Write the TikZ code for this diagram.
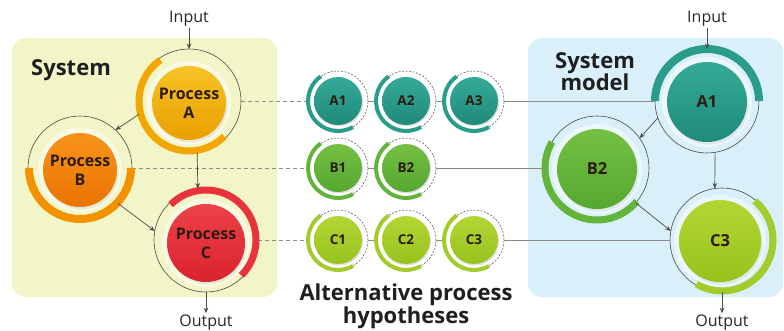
\documentclass[tikz,border=0pt]{standalone}
\usepackage{fontspec}
\setmainfont{Open Sans}
\usetikzlibrary{arrows.meta}
\definecolor{panelY}{HTML}{F2F5C7}
\definecolor{panelB}{HTML}{D9EFF9}
\definecolor{ringgray}{HTML}{4A4A4A}
\definecolor{linkgray}{HTML}{8A8A8A}
\definecolor{aTop}{HTML}{F7C325}\definecolor{aBot}{HTML}{E9A000}\definecolor{aArc}{HTML}{F2A600}
\definecolor{bTop}{HTML}{F7941D}\definecolor{bBot}{HTML}{EA7300}\definecolor{bArc}{HTML}{F39200}
\definecolor{cTop}{HTML}{EE4148}\definecolor{cBot}{HTML}{D9232E}\definecolor{cArc}{HTML}{E8333C}
\definecolor{tTop}{HTML}{35AA98}\definecolor{tBot}{HTML}{1F8A7A}\definecolor{tArc}{HTML}{2A9C8B}
\definecolor{gTop}{HTML}{74C043}\definecolor{gBot}{HTML}{55A830}\definecolor{gArc}{HTML}{62B53A}
\definecolor{yTop}{HTML}{B3D633}\definecolor{yBot}{HTML}{97C31F}\definecolor{yArc}{HTML}{A3CC2A}
\definecolor{labdark}{HTML}{2E1C12}
\newcommand\halo[3]{%
  \fill[black,opacity=0.13] (#1+1.5,#2-2.5) circle (#3);
  \fill[white,opacity=0.5] (#1,#2) circle ({#3+5});}
\newcommand\halosmall[3]{%
  \fill[black,opacity=0.12] (#1+1,#2-1.5) circle (#3);}
\begin{document}
\begin{tikzpicture}[x=1pt,y=1pt,
  panel/.style={rounded corners=14pt},
  ring/.style={circle,draw=ringgray,line width=0.6pt,inner sep=0pt,outer sep=0pt,minimum size=104pt},
  hring/.style={circle,draw=ringgray,line width=0.5pt,dash pattern=on 2pt off 1.5pt,inner sep=0pt,outer sep=0pt,minimum size=60pt},
  ballbig/.style={circle,inner sep=0pt,text=labdark,align=center,font=\bfseries\fontsize{16}{19}\selectfont},
  ballmod/.style={circle,inner sep=0pt,text=labdark,font=\bfseries\fontsize{16.5}{19}\selectfont},
  ballhyp/.style={circle,inner sep=0pt,minimum size=48pt,text=labdark,font=\bfseries\fontsize{13.5}{15}\selectfont},
  arcband/.style={line width=#1,line cap=butt},
  link/.style={draw=linkgray,line width=0.8pt},
  dlink/.style={draw=linkgray,line width=0.8pt,dash pattern=on 4pt off 3pt},
  flow/.style={draw=ringgray,line width=0.7pt,-{Stealth[length=5.5pt,width=4.5pt]}},
  io/.style={inner sep=1pt,font=\fontsize{16}{18}\selectfont,text=black!85},
  title/.style={font=\bfseries\fontsize{22}{24}\selectfont,text=black!88}
]
\useasboundingbox (0,0) rectangle (784,-331);
% panels
\fill[panelY,panel] (12,-38) rectangle (277,-297);
\fill[panelB,panel] (528,-38) rectangle (783,-297);
\node[title,anchor=base] (sys) at (71,-76) {System};
\node[title,anchor=base] (sysm1) at (595,-69) {System};
\node[title,anchor=base] (sysm2) at (595,-91) {model};
\node[title,anchor=base] (alt1) at (406,-300) {Alternative process};
\node[title,anchor=base] (alt2) at (406,-323) {hypotheses};

% rings
\node[ring] (pA) at (189,-101) {};
\node[ring] (pB) at (80,-168) {};
\node[ring] (pC) at (206,-240) {};
\node[ring] (mA) at (707,-101) {};
\node[ring] (mB) at (597,-168) {};
\node[ring] (mC) at (722,-240) {};
\node[hring] (hA1) at (338,-101) {};
\node[hring] (hA2) at (406,-101) {};
\node[hring] (hA3) at (474,-101) {};
\node[hring] (hB1) at (338,-168) {};
\node[hring] (hB2) at (406,-168) {};
\node[hring] (hC1) at (338,-240) {};
\node[hring] (hC2) at (406,-240) {};
\node[hring] (hC3) at (474,-240) {};

% row links
\draw[dlink] (pA.east) -- (hA1.west);
\draw[link] (hA1.east) -- (hA2.west);
\draw[link] (hA2.east) -- (hA3.west);
\draw[link] (hA3.east) -- (mA.west);
\draw[dlink] (pB.east) -- (hB1.west);
\draw[link] (hB1.east) -- (hB2.west);
\draw[link] (hB2.east) -- (mB.west);
\draw[dlink] (pC.east) -- (hC1.west);
\draw[link] (hC1.east) -- (hC2.west);
\draw[link] (hC2.east) -- (hC3.west);
\draw[link] (hC3.east) -- (mC.west);

% big balls
\halo{189}{-103}{37}
\node[ballbig,minimum size=74pt,top color=aTop,bottom color=aBot] (bA) at (189,-103) {Process\\A};
\draw[aArc,arcband=7pt] (189,-101) ++(125:50) arc[start angle=125,end angle=315,radius=50];
\halo{80}{-170}{37}
\node[ballbig,minimum size=74pt,top color=bTop,bottom color=bBot] (bB) at (80,-170) {Process\\B};
\draw[bArc,arcband=8pt] (80,-168) ++(180:51) arc[start angle=180,end angle=360,radius=51];
\halo{206}{-243}{39}
\node[ballbig,minimum size=78pt,top color=cTop,bottom color=cBot] (bC) at (206,-243) {Process\\C};
\draw[cArc,arcband=7pt] (206,-240) ++(135:50) arc[start angle=135,end angle=-45,radius=50];

\halo{707}{-102}{40}
\node[ballmod,minimum size=80pt,top color=tTop,bottom color=tBot] (bmA) at (707,-102) {A1};
\draw[tArc,arcband=8pt] (707,-101) ++(0:52) arc[start angle=0,end angle=180,radius=52];
\halo{597}{-169}{40}
\node[ballmod,minimum size=80pt,top color=gTop,bottom color=gBot] (bmB) at (597,-169) {B2};
\draw[gArc,arcband=7pt] (597,-168) ++(150:52) arc[start angle=150,end angle=320,radius=52];
\halo{720}{-241}{41}
\node[ballmod,minimum size=82pt,top color=yTop,bottom color=yBot] (bmC) at (720,-241) {C3};
\draw[yArc,arcband=7pt] (722,-240) ++(50:51) arc[start angle=50,end angle=-120,radius=51];

% hypothesis balls
\halosmall{338}{-101}{24}
\node[ballhyp,top color=tTop,bottom color=tBot] (bhA1) at (338,-101) {A1};
\draw[tArc,arcband=4pt] (338,-101) ++(125:30) arc[start angle=125,end angle=300,radius=30];
\halosmall{406}{-101}{24}
\node[ballhyp,top color=tTop,bottom color=tBot] (bhA2) at (406,-101) {A2};
\draw[tArc,arcband=4pt] (406,-101) ++(125:30) arc[start angle=125,end angle=300,radius=30];
\halosmall{474}{-101}{24}
\node[ballhyp,top color=tTop,bottom color=tBot] (bhA3) at (474,-101) {A3};
\draw[tArc,arcband=4pt] (474,-101) ++(125:30) arc[start angle=125,end angle=300,radius=30];
\halosmall{338}{-168}{24}
\node[ballhyp,top color=gTop,bottom color=gBot] (bhB1) at (338,-168) {B1};
\draw[gArc,arcband=4pt] (338,-168) ++(125:30) arc[start angle=125,end angle=300,radius=30];
\halosmall{406}{-168}{24}
\node[ballhyp,top color=gTop,bottom color=gBot] (bhB2) at (406,-168) {B2};
\draw[gArc,arcband=4pt] (406,-168) ++(125:30) arc[start angle=125,end angle=300,radius=30];
\halosmall{338}{-240}{24}
\node[ballhyp,top color=yTop,bottom color=yBot] (bhC1) at (338,-240) {C1};
\draw[yArc,arcband=4pt] (338,-240) ++(125:30) arc[start angle=125,end angle=300,radius=30];
\halosmall{406}{-240}{24}
\node[ballhyp,top color=yTop,bottom color=yBot] (bhC2) at (406,-240) {C2};
\draw[yArc,arcband=4pt] (406,-240) ++(125:30) arc[start angle=125,end angle=300,radius=30];
\halosmall{474}{-240}{24}
\node[ballhyp,top color=yTop,bottom color=yBot] (bhC3) at (474,-240) {C3};
\draw[yArc,arcband=4pt] (474,-240) ++(125:30) arc[start angle=125,end angle=300,radius=30];

% inputs / outputs
\node[io,anchor=base] (inL) at (189,-23) {Input};
\node[io,anchor=base] (outL) at (206,-326) {Output};
\node[io,anchor=base] (inR) at (707,-23) {Input};
\node[io,anchor=base] (outR) at (722,-326) {Output};

% flows
\draw[flow] (inL.south) -- (pA.north);
\draw[flow] (pA.195) -- (pB.47);
\draw[flow] (pA.-81) -- (pC.99);
\draw[flow] (pB.-43) -- (pC.170);
\draw[flow] (pC.south) -- (outL.north);
\draw[flow] (inR.south) -- (mA.north);
\draw[flow] (mA.199) -- (mB.35);
\draw[flow] (mA.-81) -- (mC.98);
\draw[flow] (mB.-42) -- (mC.170);
\draw[flow] (mC.south) -- (outR.north);
\end{tikzpicture}
\end{document}
